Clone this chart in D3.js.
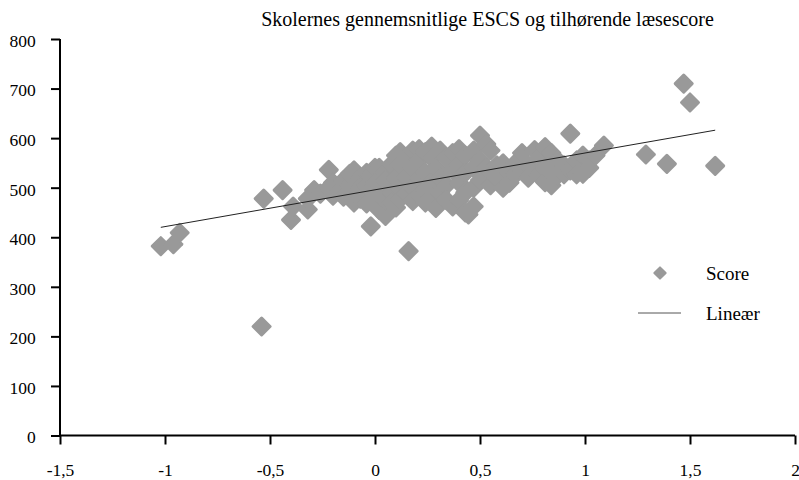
<!DOCTYPE html>
<html><head><meta charset="utf-8">
<script src="https://cdn.jsdelivr.net/npm/d3@7"></script>
<style>html,body{margin:0;padding:0;background:#fff;}svg{display:block;font-family:"Liberation Serif","Times New Roman",serif;}</style>
</head><body>
<svg id="chart" width="799" height="480"></svg>
<script>
const title = "Skolernes gennemsnitlige ESCS og tilhørende læsescore";
const xTicks = [-1.5, -1, -0.5, 0, 0.5, 1, 1.5, 2];
const yTicks = [0, 100, 200, 300, 400, 500, 600, 700, 800];
const legendLabels = ["Score", "Lineær"];
const escs = [
 -1.02,-0.96,-0.93,-0.54,-0.53,-0.44,-0.40,-0.39,-0.32,-0.32,-0.29,-0.26,-0.22,-0.22,-0.20,-0.20,-0.17,-0.15,-0.15,-0.12,-0.12,
 -0.10,-0.10,-0.10,-0.07,-0.07,-0.07,-0.04,-0.04,-0.04,-0.02,-0.02,-0.02,0.00,0.00,0.00,0.02,0.02,0.02,
 0.05,0.05,0.05,0.05,0.08,0.08,0.08,0.10,0.10,0.10,0.12,0.12,0.12,0.12,0.15,0.15,0.15,0.16,
 0.18,0.18,0.18,0.18,0.21,0.21,0.21,0.21,0.24,0.24,0.24,0.24,0.27,0.27,0.27,0.27,0.29,0.29,
 0.31,0.31,0.31,0.34,0.34,0.34,0.37,0.37,0.37,0.40,0.40,0.40,0.40,0.43,0.43,0.43,0.43,0.445,
 0.47,0.47,0.47,0.47,0.50,0.50,0.50,0.53,0.53,0.55,0.55,0.58,0.58,0.61,0.61,0.64,0.64,0.67,0.67,
 0.70,0.70,0.73,0.73,0.76,0.76,0.78,0.78,0.81,0.81,0.81,0.84,0.84,0.84,0.87,0.87,0.90,0.90,
 0.93,0.93,0.96,0.96,0.99,0.99,1.02,1.02,1.05,1.09,1.29,1.39,1.47,1.50,1.62
];
const score = [
 382,386,409,220,478,495,435,462,456,478,495,488,536,500,484,510,492,515,482,505,528,
 535,470,490,520,478,500,530,468,505,422,525,495,540,480,510,540,455,500,
 530,443,475,515,548,490,470,565,520,460,572,545,500,478,560,520,488,372,
 575,540,500,473,578,555,520,485,572,530,495,470,583,560,510,480,540,459,
 575,520,490,560,505,475,570,535,462,578,545,510,475,565,530,490,450,446,
 575,540,500,462,605,555,515,588,540,575,505,545,520,549,500,530,510,550,527,
 570,535,545,520,576,540,560,525,582,540,511,570,530,505,555,525,545,527,
 609,535,555,527,565,528,555,540,565,585,567,548,710,672,544
];
const trendX = [-1.02, 1.62];
const trendY = [420, 616];

const svg = d3.select("#chart");
const x = d3.scaleLinear().domain([-1.5, 2]).range([60, 795]);
const y = d3.scaleLinear().domain([0, 800]).range([435.5, 39]);
const font = "Liberation Serif, Times New Roman, serif";

svg.append("text").attr("x", 487.5).attr("y", 26).attr("text-anchor", "middle")
  .attr("font-size", 20).attr("fill", "#000").text(title);

// points
const pts = escs.map((v, i) => [v, score[i]]);
const dsz = 15;
svg.append("g").selectAll("rect").data(pts).join("rect")
  .attr("x", -dsz/2).attr("y", -dsz/2).attr("width", dsz).attr("height", dsz)
  .attr("rx", 1.5)
  .attr("transform", d => `translate(${x(d[0])},${y(d[1])}) rotate(45)`)
  .attr("fill", "#999999");

// trend
svg.append("line").attr("x1", x(trendX[0])).attr("y1", y(trendY[0]))
  .attr("x2", x(trendX[1])).attr("y2", y(trendY[1]))
  .attr("stroke", "#222").attr("stroke-width", 1);

// axes
const xAxis = d3.axisBottom(x).tickValues(xTicks).tickSize(9).tickPadding(19.5)
  .tickFormat(d => String(d).replace(".", ","));
const gx = svg.append("g").attr("transform", `translate(0,${y(0)})`).call(xAxis);
const yAxis = d3.axisLeft(y).tickValues(yTicks).tickSize(9).tickPadding(15.3);
const gy = svg.append("g").attr("transform", `translate(${x(-1.5)},0)`).call(yAxis);
[gx, gy].forEach(g => {
  g.select(".domain").attr("stroke", "#000").attr("stroke-width", 2);
  g.selectAll(".tick line").attr("stroke", "#000").attr("stroke-width", 2);
  g.selectAll("text").attr("font-family", font).attr("font-size", 17.5).attr("fill", "#000");
});
gy.selectAll(".tick text").attr("dy", "0.42em");
gx.select(".domain").attr("d", `M${x(-1.5)},0H${x(2)}`);
gy.select(".domain").attr("d", `M0,${y(0)}V${y(800)}`);

// legend
const lg = svg.append("g");
lg.append("rect").attr("x", -5).attr("y", -5).attr("width", 10).attr("height", 10).attr("rx", 1)
  .attr("transform", "translate(660,273) rotate(45)").attr("fill", "#999999");
lg.append("line").attr("x1", 638).attr("x2", 681).attr("y1", 313).attr("y2", 313)
  .attr("stroke", "#555").attr("stroke-width", 1);
lg.selectAll("text").data(legendLabels).join("text")
  .attr("x", 706).attr("y", (d, i) => 273 + i * 40).attr("dy", "0.35em")
  .attr("font-size", 19).attr("fill", "#000").text(d => d);
</script>
</body></html>
